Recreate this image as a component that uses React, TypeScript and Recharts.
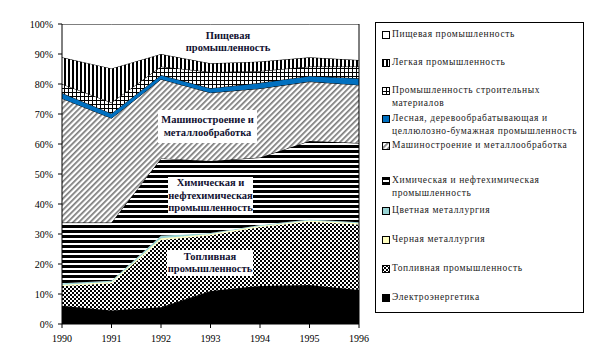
import React from "react";
import { AreaChart, Area, XAxis, YAxis, ReferenceLine } from "recharts";

// years on the x axis
const years = [1990, 1991, 1992, 1993, 1994, 1995, 1996];

// shares of industries, %, bottom of the stack first
const electro = [6.1, 4.5, 5.6, 11.0, 12.7, 13.0, 11.3];
const fuel = [6.6, 9.1, 22.4, 18.6, 19.6, 21.1, 21.9];
const ferrous = [0.4, 0.4, 0.6, 0.4, 0.4, 0.4, 0.4];
const nonFerrous = [0.5, 0.4, 0.8, 0.3, 0.3, 0.3, 0.3];
const chemical = [20.2, 19.4, 25.8, 24.0, 22.5, 26.2, 26.4];
const machinery = [41.4, 34.8, 26.4, 22.8, 23.0, 19.8, 19.4];
const forest = [1.8, 1.6, 1.4, 1.5, 1.9, 1.9, 2.2];
const building = [3.0, 3.6, 2.8, 5.4, 3.9, 3.1, 3.9];
const light = [8.9, 11.4, 4.2, 2.9, 3.2, 3.1, 2.2];
const food = [11.1, 14.8, 10.0, 13.1, 12.5, 11.1, 12.0];

const yTicks = [0, 10, 20, 30, 40, 50, 60, 70, 80, 90, 100];

const data = years.map((year, i) => ({
  year,
  electro: electro[i],
  fuel: fuel[i],
  ferrous: ferrous[i],
  nonFerrous: nonFerrous[i],
  chemical: chemical[i],
  machinery: machinery[i],
  forest: forest[i],
  building: building[i],
  light: light[i],
  food: food[i],
}));

const series = [
  { key: "electro", name: ["Электроэнергетика"], fill: "#000", stroke: "#000" },
  { key: "fuel", name: ["Топливная промышленность"], fill: "url(#pCheck)", stroke: "none" },
  { key: "ferrous", name: ["Черная металлургия"], fill: "#ffffc0", stroke: "none" },
  { key: "nonFerrous", name: ["Цветная металлургия"], fill: "#99d4d4", stroke: "none" },
  { key: "chemical", name: ["Химическая и нефтехимическая", "промышленность"], fill: "url(#pHoriz)", stroke: "#000" },
  { key: "machinery", name: ["Машиностроение и металлообработка"], fill: "url(#pDiag)", stroke: "#000" },
  { key: "forest", name: ["Лесная, деревообрабатывающая и", "целлюлозно-бумажная промышленность"], fill: "#0070c0", stroke: "#000" },
  { key: "building", name: ["Промышленность строительных", "материалов"], fill: "url(#pGrid)", stroke: "#000" },
  { key: "light", name: ["Легкая промышленность"], fill: "url(#pVert)", stroke: "#000" },
  { key: "food", name: ["Пищевая промышленность"], fill: "#fff", stroke: "#000" },
];

const serif = '"Liberation Serif", "Times New Roman", serif';

// legend rows, top to bottom (top of the first text line)
const legendTops = [28, 56, 84, 112, 139, 174, 204, 233, 262, 291];

function Patterns() {
  return (
    <svg width={0} height={0} style={{ position: "absolute" }}>
      <defs>
        <pattern id="pVert" width="4" height="4" patternUnits="userSpaceOnUse">
          <rect width="4" height="4" fill="#fff" />
          <rect width="2" height="4" fill="#000" />
        </pattern>
        <pattern id="pGrid" width="4" height="4" patternUnits="userSpaceOnUse">
          <rect width="4" height="4" fill="#fff" />
          <rect width="4" height="1" fill="#000" />
          <rect width="1" height="4" fill="#000" />
        </pattern>
        <pattern id="pDiag" width="4" height="4" patternUnits="userSpaceOnUse" patternTransform="rotate(45)">
          <rect width="4" height="4" fill="#fff" />
          <rect width="1.7" height="4" fill="#7a7a7a" />
        </pattern>
        <pattern id="pHoriz" width="5" height="5" patternUnits="userSpaceOnUse">
          <rect width="5" height="5" fill="#fff" />
          <rect width="5" height="3" fill="#000" />
        </pattern>
        <pattern id="pCheck" width="4" height="4" patternUnits="userSpaceOnUse">
          <rect width="4" height="4" fill="#fff" />
          <rect width="2" height="2" fill="#000" />
          <rect x="2" y="2" width="2" height="2" fill="#000" />
        </pattern>
      </defs>
    </svg>
  );
}

function Label({ lines, left, top, width, height, box }: any) {
  return (
    <div
      style={{
        position: "absolute",
        left,
        top,
        width,
        height,
        background: box ? "#fff" : "transparent",
        fontFamily: serif,
        fontWeight: "bold",
        fontSize: 10.5,
        lineHeight: "12.5px",
        color: "#101030",
        textAlign: "center",
        display: "flex",
        flexDirection: "column",
        justifyContent: "center",
        whiteSpace: "nowrap",
      }}
    >
      {lines.map((l: string) => (
        <div key={l}>{l}</div>
      ))}
    </div>
  );
}

export default function App() {
  const legendItems = [...series].reverse();
  return (
    <div style={{ position: "fixed", left: 0, top: 0, width: 603, height: 363, background: "#fff" }}>
      <Patterns />
      <AreaChart
        width={603}
        height={363}
        data={data}
        margin={{ top: 24, right: 244, bottom: 0, left: 0 }}
      >
        {series.map((s) => (
          <Area
            key={s.key}
            type="linear"
            dataKey={s.key}
            stackId="a"
            fill={s.fill}
            fillOpacity={1}
            stroke={s.stroke}
            strokeWidth={1}
            dot={false}
            activeDot={false}
            isAnimationActive={false}
          />
        ))}
        <XAxis
          dataKey="year"
          type="number"
          domain={[1990, 1996]}
          ticks={years}
          height={39}
          tickSize={4}
          tickMargin={7}
          axisLine={{ stroke: "#000" }}
          tickLine={{ stroke: "#000" }}
          tick={{ fill: "#000", fontSize: 10, fontFamily: serif }}
        />
        <YAxis
          type="number"
          domain={[0, 100]}
          allowDataOverflow
          ticks={yTicks}
          width={62}
          tickSize={4}
          tickMargin={5}
          tickFormatter={(v: number) => `${v}%`}
          axisLine={{ stroke: "#000" }}
          tickLine={{ stroke: "#000" }}
          tick={{ fill: "#000", fontSize: 10, fontFamily: serif }}
        />
        <ReferenceLine x={1996} stroke="#000" strokeWidth={1} ifOverflow="visible" />
      </AreaChart>

      <Label lines={["Пищевая", "промышленность"]} left={178} top={28} width={100} height={28} />
      <Label lines={["Машиностроение и", "металлообработка"]} left={158} top={110} width={99} height={33} box />
      <Label lines={["Химическая и", "нефтехимическая", "промышленность"]} left={168} top={177} width={85} height={38} box />
      <Label lines={["Топливная", "промышленность"]} left={167} top={250} width={86} height={26} box />

      <div
        style={{
          position: "absolute",
          left: 375,
          top: 22,
          width: 207,
          height: 289,
          border: "1px solid #000",
          background: "#fff",
          fontFamily: serif,
          fontSize: 9.5,
          color: "#222",
        }}
      >
        {legendItems.map((s, i) => (
          <div
            key={s.key}
            style={{ position: "absolute", left: 6, top: legendTops[i] - 22 - 1, lineHeight: "13px", whiteSpace: "nowrap", letterSpacing: 0.6 }}
          >
            <svg width={8} height={8} style={{ position: "absolute", left: 0, top: 3 }}>
              <rect x={0.5} y={0.5} width={7} height={7} fill={s.fill} stroke="#000" />
            </svg>
            <div style={{ marginLeft: 10 }}>
              {s.name.map((l) => (
                <div key={l}>{l}</div>
              ))}
            </div>
          </div>
        ))}
      </div>
    </div>
  );
}
